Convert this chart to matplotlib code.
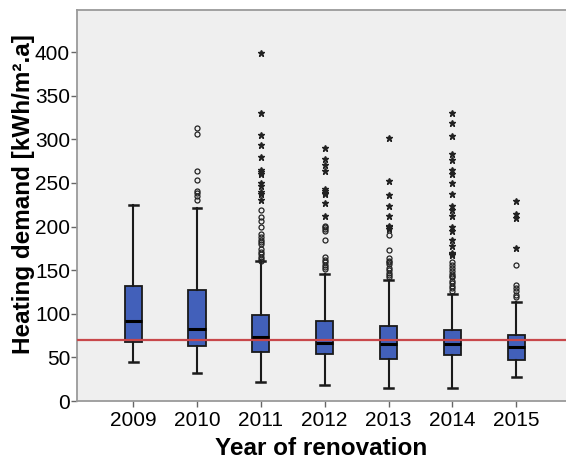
import matplotlib
matplotlib.use("Agg")
import matplotlib.pyplot as plt

plt.rcParams['font.family'] = ['Liberation Sans', 'DejaVu Sans']

years = [2009, 2010, 2011, 2012, 2013, 2014, 2015]
q1 = [68, 63, 56.7, 53.6, 48.6, 53.3, 47.5]
median = [92, 83, 73.6, 66.7, 65, 64.8, 62]
q3 = [132, 127.6, 98.9, 91.6, 85.8, 81.6, 75.9]
whislo = [45, 32.5, 21.8, 18, 14.6, 15.3, 28]
whishi = [225, 221.5, 160, 146, 139, 123, 114]

outliers = [
    [],
    [313, 306.5, 263.6, 253.7, 241, 238, 234.5, 230],
    [219.5, 210.7, 206.9, 199, 191.6, 188, 185, 182, 180, 174, 171, 168, 165, 163, 161],
    [201, 199, 197, 195.4, 184, 164.7, 162, 159, 156, 153.5, 151.4],
    [190.8, 173, 164, 161, 159, 157, 153, 150, 147, 144, 141.7],
    [159, 156, 153, 148.6, 146, 143.5, 141.7, 138, 135, 132, 129, 126],
    [156, 133, 129, 126, 122, 118.7],
]
extremes = [
    [],
    [],
    [399, 330, 304.6, 293, 280, 265, 263, 260.6, 250, 247, 239.4, 236.8, 230],
    [290.4, 277, 271, 263.6, 243.3, 241, 239, 237.5, 226.8, 211.5],
    [302, 251.7, 235.6, 224, 211.9, 201, 199, 197.5],
    [330, 318.7, 303.4, 283.5, 276.6, 265, 259.8, 249.8, 237.5, 223, 218.4,
     211.5, 200, 195.4, 184.7, 178, 170, 168, 167],
    [228.7, 214.6, 209.6, 175],
]
reference_value = 70

fig = plt.figure(figsize=(5.66, 4.62), dpi=100)
ax = fig.add_axes([0.136, 0.132, 0.864, 0.846])
ax.set_facecolor('#EFEFEF')

stats = []
for i, y in enumerate(years):
    stats.append(dict(med=median[i], q1=q1[i], q3=q3[i],
                      whislo=whislo[i], whishi=whishi[i], fliers=[], label=str(y)))

ax.bxp(stats, positions=years, widths=0.27, patch_artist=True, showfliers=False,
       boxprops=dict(facecolor='#4260BA', edgecolor='#1a1a1a', linewidth=1.3),
       medianprops=dict(color='black', linewidth=2.2),
       whiskerprops=dict(color='#1a1a1a', linewidth=1.5),
       capprops=dict(color='#1a1a1a', linewidth=1.8),
       capwidths=0.14, zorder=3)

for y, outs, ext in zip(years, outliers, extremes):
    if outs:
        ax.plot([y] * len(outs), outs, linestyle='none', marker='o', markersize=3.6,
                markerfacecolor='none', markeredgecolor='#222222', markeredgewidth=0.9, zorder=4)
    if ext:
        ax.plot([y] * len(ext), ext, linestyle='none', marker='*', markersize=5,
                color='#222222', zorder=4)

ax.axhline(reference_value, color='#C8474A', linewidth=1.6, zorder=5)

ax.set_xlim(2008.12, 2015.78)
ax.set_ylim(0, 448)
ax.set_yticks(range(0, 401, 50))
ax.set_xticks(years)
ax.set_xticklabels([str(y) for y in years])
ax.tick_params(axis='both', labelsize=15, color='#666666', length=4, width=1)
ax.tick_params(axis='y', pad=1)
ax.tick_params(axis='x', pad=3)
for s in ['left', 'bottom', 'top']:
    ax.spines[s].set_color('#9A9A9A')
    ax.spines[s].set_linewidth(1.3)
ax.spines['right'].set_visible(False)

ax.set_ylabel('Heating demand [kWh/m².a]', fontsize=17.5, fontweight='bold')
ax.yaxis.set_label_coords(-0.086, 0.53)
ax.set_xlabel('Year of renovation', fontsize=17.5, fontweight='bold', labelpad=5)

fig.savefig('out.png', dpi=100)
